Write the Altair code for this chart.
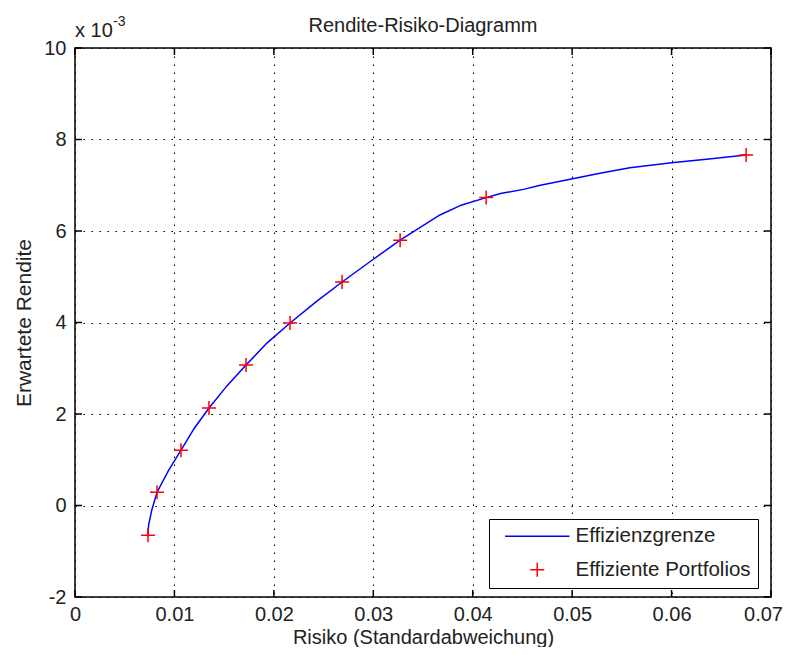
import altair as alt
import pandas as pd

# Efficient portfolios (risk = std dev, expected return in units of 1e-3)
risiko = [0.00734, 0.00825, 0.01066, 0.01348, 0.0172, 0.02163, 0.02686, 0.0327, 0.04135, 0.0675]
rendite = [-0.65, 0.29, 1.21, 2.13, 3.07, 3.99, 4.885, 5.80, 6.73, 7.66]

# Efficient frontier curve
kurve_x = [0.00734, 0.00740, 0.00772, 0.00825, 0.0094, 0.01066, 0.0120, 0.01348, 0.0153,
           0.0172, 0.0193, 0.02163, 0.0243, 0.02686, 0.0298, 0.0327, 0.0367, 0.0389,
           0.04135, 0.0428, 0.0451, 0.0468, 0.0498, 0.0528, 0.0558, 0.0600, 0.0640, 0.0675]
kurve_y = [-0.65, -0.43, -0.10, 0.29, 0.76, 1.21, 1.69, 2.13, 2.62,
           3.07, 3.55, 3.99, 4.46, 4.885, 5.35, 5.80, 6.35, 6.57,
           6.73, 6.82, 6.91, 7.00, 7.13, 7.26, 7.38, 7.49, 7.58, 7.66]

x_ticks = [0, 0.01, 0.02, 0.03, 0.04, 0.05, 0.06, 0.07]
y_ticks = [-2, 0, 2, 4, 6, 8, 10]

serien = ["Effizienzgrenze", "Effiziente Portfolios"]
titel = ["Rendite-Risiko-Diagramm"]

W, H = 696, 549
FONT = "Liberation Sans"
FS = 20
TXT = "#222222"
PLUS = "M-1,0H1M0,-1V1"
LINE_SYM = "M-4.6,0H4.6"

df_curve = pd.DataFrame({"risiko": kurve_x, "rendite": kurve_y, "serie": serien[0]})
df_pts = pd.DataFrame({"risiko": risiko, "rendite": rendite, "serie": serien[1]})
df_xt = pd.DataFrame({"v": x_ticks})
df_yt = pd.DataFrame({"v": y_ticks})

xscale = alt.Scale(domain=[0, 0.07], nice=False, zero=False)
yscale = alt.Scale(domain=[-2, 10], nice=False, zero=False)
color_scale = alt.Scale(domain=serien, range=["#0000FF", "#FF0000"])
shape_scale = alt.Scale(domain=serien, range=[LINE_SYM, PLUS])

legend = alt.Legend(
    title=None, orient="none", legendX=414, legendY=471,
    strokeColor="black", fillColor="white", padding=7, cornerRadius=0,
    symbolSize=196, symbolStrokeWidth=1.5, symbolFillColor="transparent",
    labelFont=FONT, labelFontSize=20.5, labelColor=TXT, labelLimit=400,
    symbolOffset=31, labelOffset=28, rowPadding=12.5,
)

xaxis = alt.Axis(
    values=x_ticks, labelExpr="'' + datum.value", ticks=False, domain=False,
    grid=True, gridColor="black", gridDash=[1.5, 6.5], gridOpacity=1, gridWidth=1,
    labelFont=FONT, labelFontSize=FS, labelColor=TXT, labelPadding=7,
    labelOffset={"condition": {"test": "datum.value >= 0.07", "value": -8}, "value": 0},
    title="Risiko (Standardabweichung)", titleFont=FONT, titleFontSize=FS,
    titleFontWeight="normal", titleColor=TXT, titlePadding=3,
    labelFlush=False,
)
yaxis = alt.Axis(
    values=y_ticks, labelExpr="'' + datum.value", ticks=False, domain=False,
    grid=True, gridColor="black", gridDash=[1.5, 6.5], gridOpacity=1, gridWidth=1,
    labelFont=FONT, labelFontSize=FS, labelColor=TXT, labelPadding=9,
    title="Erwartete Rendite", titleFont=FONT, titleFontSize=21,
    titleFontWeight="normal", titleColor=TXT, titlePadding=9,
    labelFlush=False,
)

base_x = alt.X("risiko:Q", scale=xscale, axis=xaxis)
base_y = alt.Y("rendite:Q", scale=yscale, axis=yaxis)

line = alt.Chart(df_curve).mark_line(strokeWidth=1.5, clip=True).encode(
    x=base_x, y=base_y,
    color=alt.Color("serie:N", scale=color_scale, legend=legend),
)

pts = alt.Chart(df_pts).mark_point(filled=False, size=196, strokeWidth=1.5, opacity=1).encode(
    x=alt.X("risiko:Q", scale=xscale),
    y=alt.Y("rendite:Q", scale=yscale),
    color=alt.Color("serie:N", scale=color_scale, legend=legend),
    shape=alt.Shape("serie:N", scale=shape_scale, legend=legend),
)

TL = 7
tick_b = alt.Chart(df_xt).mark_rule(color="black", strokeWidth=1.5).encode(
    x=alt.X("v:Q", scale=xscale), y=alt.value(H), y2=alt.value(H - TL))
tick_t = alt.Chart(df_xt).mark_rule(color="black", strokeWidth=1.5).encode(
    x=alt.X("v:Q", scale=xscale), y=alt.value(0), y2=alt.value(TL))
tick_l = alt.Chart(df_yt).mark_rule(color="black", strokeWidth=1.5).encode(
    y=alt.Y("v:Q", scale=yscale), x=alt.value(0), x2=alt.value(TL))
tick_r = alt.Chart(df_yt).mark_rule(color="black", strokeWidth=1.5).encode(
    y=alt.Y("v:Q", scale=yscale), x=alt.value(W), x2=alt.value(W - TL))

exp_df = pd.DataFrame({"t": ["x 10"], "e": ["-3"]})
exp_main = alt.Chart(exp_df).mark_text(
    font=FONT, fontSize=FS, align="left", baseline="alphabetic", color=TXT
).encode(text="t:N", x=alt.value(0), y=alt.value(-11))
exp_sup = alt.Chart(exp_df).mark_text(
    font=FONT, fontSize=14, align="left", baseline="alphabetic", color=TXT
).encode(text="e:N", x=alt.value(38), y=alt.value(-22))

title_df = pd.DataFrame({"t": titel})
title_mark = alt.Chart(title_df).mark_text(
    font=FONT, fontSize=FS, align="center", baseline="alphabetic", color=TXT
).encode(text="t:N", x=alt.value(W / 2), y=alt.value(-16))

chart = alt.layer(line, pts, tick_b, tick_t, tick_l, tick_r, exp_main, exp_sup, title_mark).properties(
    width=W, height=H,
    autosize=alt.AutoSizeParams(type="none"),
    padding={"left": 67, "top": 40, "right": 12, "bottom": 50},
    background="white",
).resolve_scale(color="shared", shape="shared").configure_view(
    stroke="black", strokeWidth=1.5
)

chart.save("out.html", embed_options={"renderer": "svg", "actions": False})
